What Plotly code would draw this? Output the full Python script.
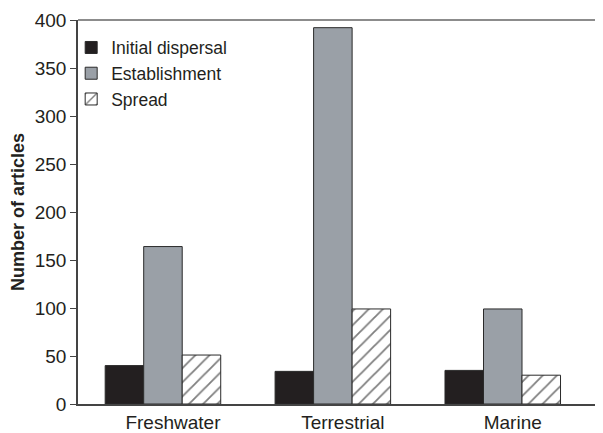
import plotly.graph_objects as go

categories = ["Freshwater", "Terrestrial", "Marine"]
initial_dispersal = [40, 34, 35]
establishment = [164, 392, 99]
spread = [51, 99, 30]
y_ticks = [0, 50, 100, 150, 200, 250, 300, 350, 400]

line = dict(color="#2a2a2a", width=1)
fig = go.Figure()
fig.add_trace(go.Bar(name="Initial dispersal", x=categories, y=initial_dispersal,
                     marker=dict(color="#231f20", line=line)))
fig.add_trace(go.Bar(name="Establishment", x=categories, y=establishment,
                     marker=dict(color="#9aa0a7", line=line)))
fig.add_trace(go.Bar(name="Spread", x=categories, y=spread,
                     marker=dict(color="white", line=line,
                                 pattern=dict(shape="/", size=10, solidity=0.18,
                                              fgcolor="#000000", bgcolor="white"))))

fam = "Liberation Sans, Arial, sans-serif"
font = dict(family=fam, size=19, color="#231f20")
legfont = dict(family=fam, size=17.5, color="#231f20")
# the page body adds an 8px offset, so the figure is 8px smaller than the window
fig.update_layout(
    width=595, height=425,
    margin=dict(l=70, r=0, t=12, b=29, autoexpand=False),
    paper_bgcolor="white", plot_bgcolor="white",
    barmode="group", bargap=0.32, bargroupgap=0,
    font=font,
    showlegend=True,
    legend=dict(x=-0.013, y=0.975, xanchor="left", yanchor="top",
                bgcolor="rgba(0,0,0,0)", font=legfont, tracegroupgap=0,
                itemwidth=30),
    xaxis=dict(range=[-0.5, 2.59], showline=True, linecolor="#444444", linewidth=1.5,
               ticks="", showgrid=False, tickfont=font, automargin=False,
               ticklabelshift=10),
    yaxis=dict(range=[0, 400], tickvals=y_ticks, showline=True, linecolor="#444444",
               linewidth=1.5, ticks="outside", ticklen=6, tickcolor="#444444",
               showgrid=False, zeroline=False, tickfont=font, automargin=False,
               title=dict(text="<b>Number of articles</b>",
                          font=dict(size=18, family=fam, color="#231f20"), standoff=8)),
)
# top border line
fig.add_shape(type="line", xref="paper", yref="paper", x0=0, x1=1, y0=1, y1=1,
              line=dict(color="#666666", width=1.5))
fig.write_html("out.html")
